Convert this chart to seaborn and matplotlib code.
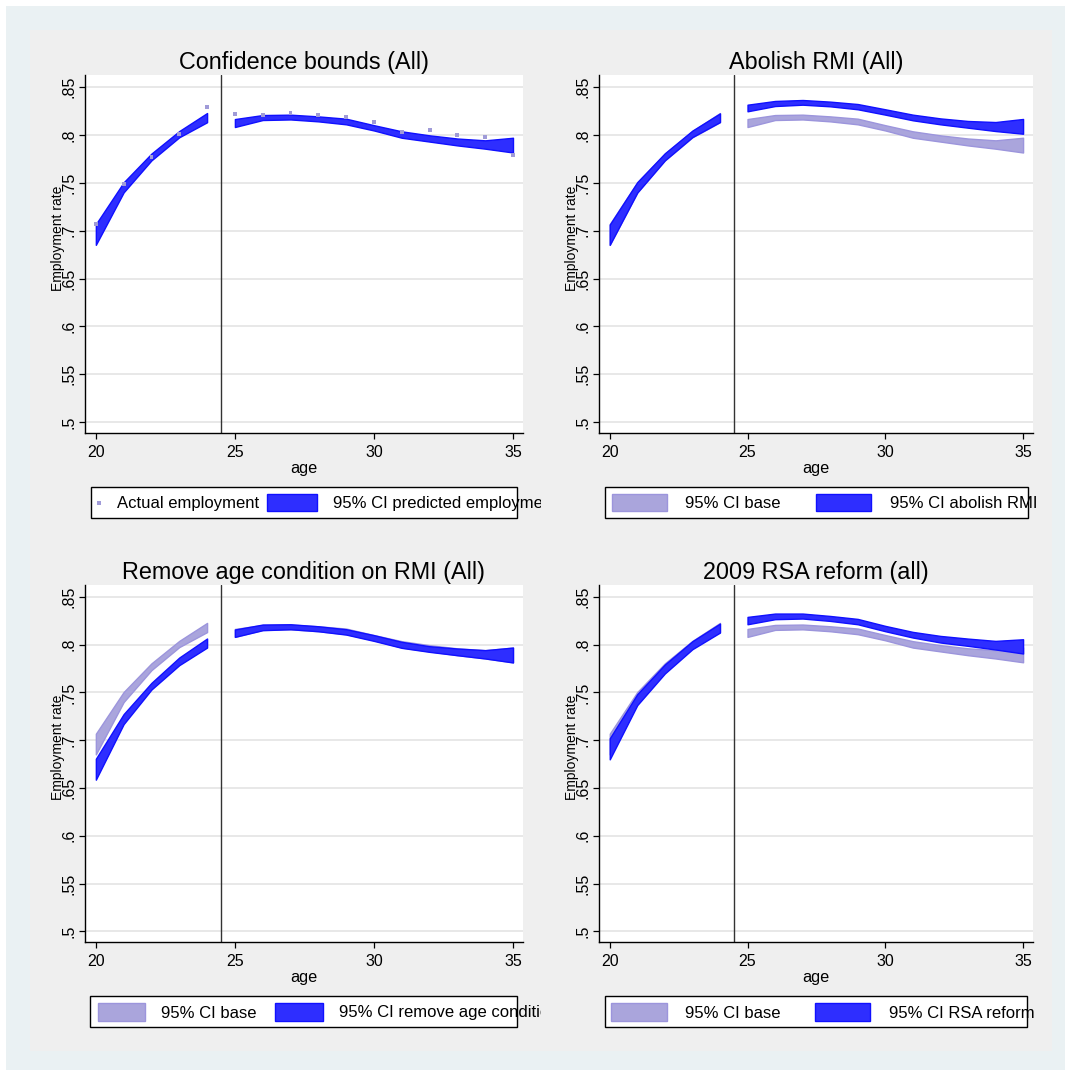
import numpy as np
import pandas as pd
import matplotlib
matplotlib.use('Agg')
import matplotlib.pyplot as plt
from matplotlib.patches import Rectangle
import seaborn as sns

# ---------------- data ----------------
ages_young = [20, 21, 22, 23, 24]
ages_old = [25, 26, 27, 28, 29, 30, 31, 32, 33, 34, 35]
ages_all = ages_young + ages_old

actual_employment = [0.7065, 0.7483, 0.7765, 0.8005, 0.8291,
                     0.8214, 0.8204, 0.8232, 0.8211, 0.8183, 0.8138,
                     0.8030, 0.8047, 0.7995, 0.7981, 0.7786]

# baseline prediction, 95% CI
base_young_hi = [0.7068, 0.7505, 0.7805, 0.8040, 0.8228]
base_young_lo = [0.6852, 0.7400, 0.7734, 0.7975, 0.8132]
base_old_hi = [0.8165, 0.8207, 0.8211, 0.8193, 0.8169, 0.8101,
               0.8037, 0.7995, 0.7962, 0.7943, 0.7970]
base_old_lo = [0.8082, 0.8155, 0.8161, 0.8141, 0.8110, 0.8046,
               0.7970, 0.7930, 0.7890, 0.7856, 0.7816]

# abolish RMI
abolish_young_hi = [0.7064, 0.7507, 0.7808, 0.8045, 0.8224]
abolish_young_lo = [0.6852, 0.7398, 0.7734, 0.7977, 0.8134]
abolish_old_hi = [0.8315, 0.8354, 0.8364, 0.8347, 0.8322, 0.8267,
                  0.8211, 0.8172, 0.8145, 0.8134, 0.8166]
abolish_old_lo = [0.8246, 0.8301, 0.8315, 0.8298, 0.8267, 0.8211,
                  0.8152, 0.8110, 0.8075, 0.8040, 0.8012]

# remove age condition on RMI
remove_young_hi = [0.6806, 0.7274, 0.7601, 0.7866, 0.8065]
remove_young_lo = [0.6587, 0.7169, 0.7531, 0.7786, 0.7970]
remove_old_hi = [0.8159, 0.8211, 0.8214, 0.8193, 0.8162, 0.8100,
                 0.8030, 0.7984, 0.7960, 0.7943, 0.7970]
remove_old_lo = [0.8082, 0.8152, 0.8162, 0.8141, 0.8106, 0.8040,
                 0.7967, 0.7925, 0.7890, 0.7856, 0.7814]

# 2009 RSA reform
rsa_young_hi = [0.7020, 0.7483, 0.7793, 0.8037, 0.8221]
rsa_young_lo = [0.6800, 0.7368, 0.7699, 0.7953, 0.8127]
rsa_old_hi = [0.8291, 0.8326, 0.8326, 0.8301, 0.8270, 0.8197,
              0.8134, 0.8092, 0.8064, 0.8040, 0.8057]
rsa_old_lo = [0.8214, 0.8267, 0.8274, 0.8249, 0.8214, 0.8141,
              0.8075, 0.8023, 0.7988, 0.7950, 0.7908]

y_ticks = [0.5, 0.55, 0.6, 0.65, 0.7, 0.75, 0.8, 0.85]
y_tick_labels = ['.5', '.55', '.6', '.65', '.7', '.75', '.8', '.85']
x_ticks = [20, 25, 30, 35]

# ---------------- style ----------------
sns.set_style('white')
plt.rcParams['font.family'] = ['Liberation Sans', 'DejaVu Sans']
plt.rcParams['text.color'] = 'black'
plt.rcParams['axes.labelcolor'] = 'black'
plt.rcParams['axes.titlecolor'] = 'black'
plt.rcParams['xtick.color'] = 'black'
plt.rcParams['ytick.color'] = 'black'

BLUE_FACE = '#2e2eff'
BLUE_EDGE = '#1010ff'
BASE_FACE = '#aaa5dc'
BASE_EDGE = '#9c95dc'
DOT = '#a09bd8'

W, H = 1065, 1070
fig = plt.figure(figsize=(W / 100, H / 100), dpi=100)
fig.patch.set_facecolor('white')
fig.patches.append(Rectangle((6 / W, 0), 1, 1 - 6 / H, transform=fig.transFigure,
                             facecolor='#eaf1f3', edgecolor='none', zorder=-10))
fig.patches.append(Rectangle((30 / W, 1 - 1051 / H), (1052 - 30) / W, (1051 - 30) / H,
                             transform=fig.transFigure, facecolor='#efefef',
                             edgecolor='none', zorder=-9))


def make_axes(l, t, r, b):
    return fig.add_axes([l / W, 1 - b / H, (r - l) / W, (b - t) / H])


def band(ax, x, lo, hi, face, edge, z):
    ax.fill_between(x, lo, hi, facecolor=face, edgecolor=edge, linewidth=1.0, zorder=z)


def style_axes(ax, title):
    ax.set_facecolor('white')
    ax.set_xlim(19.61, 35.36)
    ax.set_ylim(0.4888, 0.8625)
    ax.set_xticks(x_ticks)
    ax.set_xticklabels([str(v) for v in x_ticks])
    ax.set_yticks(y_ticks)
    ax.set_yticklabels(y_tick_labels)
    ax.yaxis.grid(True, color='#e4e4e4', linewidth=1.2)
    ax.xaxis.grid(False)
    ax.set_axisbelow(True)
    for s in ['top', 'right']:
        ax.spines[s].set_visible(False)
    for s in ['left', 'bottom']:
        ax.spines[s].set_visible(True)
        ax.spines[s].set_color('black')
        ax.spines[s].set_linewidth(1.0)
    ax.tick_params(axis='both', direction='out', length=4.5, width=0.9, color='black',
                   labelsize=11.5, bottom=True, left=True, labelcolor='black')
    ax.tick_params(axis='x', pad=4)
    ax.tick_params(axis='y', pad=1.5)
    for lab in ax.get_yticklabels():
        lab.set_rotation(90)
        lab.set_va('center')
    ax.axvline(24.5, color='#333333', linewidth=1.0, zorder=1)
    ax.set_xlabel('age', fontsize=11.7, labelpad=1, color='black')
    ax.set_ylabel('Employment rate', fontsize=10, color='black')
    ax.yaxis.label.set_va('center')
    ax.yaxis.set_label_coords(-0.062, 0.545)
    ax.set_title(title, fontsize=16.8, pad=4, color='black')


def legend_box(l, t, r, b, clip_r, items, sw_t, sw_b):
    lax = fig.add_axes([l / W, 1 - b / H, (clip_r - l) / W, (b - t) / H])
    lax.set_xlim(l, clip_r)
    lax.set_ylim(b, t)
    lax.axis('off')
    lax.add_patch(Rectangle((l, t), r - l, b - t, facecolor='white', edgecolor='black',
                            linewidth=1.0, clip_on=False, zorder=0))
    yc = (sw_t + sw_b) / 2
    for kind, x0, x1, face, edge, text, tx in items:
        if kind == 'marker':
            lax.add_patch(Rectangle((x0 - 2, yc - 2), 4, 4, facecolor=face,
                                    edgecolor='none', zorder=2))
        else:
            lax.add_patch(Rectangle((x0, sw_t), x1 - x0, sw_b - sw_t, facecolor=face,
                                    edgecolor=edge, linewidth=1.0, zorder=2))
        lax.text(tx, yc + 1, text, fontsize=12, va='center', ha='left', clip_on=True,
                 zorder=3, color='black')


# ---------------- panel 1: confidence bounds ----------------
ax1 = make_axes(85, 75, 523, 433)
band(ax1, ages_young, base_young_lo, base_young_hi, BLUE_FACE, BLUE_EDGE, 2)
band(ax1, ages_old, base_old_lo, base_old_hi, BLUE_FACE, BLUE_EDGE, 2)
df_act = pd.DataFrame({'age': ages_all, 'emp': actual_employment})
sns.scatterplot(data=df_act, x='age', y='emp', ax=ax1, marker='s', s=8, color=DOT,
                edgecolor='none', zorder=4, legend=False)
style_axes(ax1, 'Confidence bounds (All)')
legend_box(91, 487, 517, 518, 541,
           [('marker', 99, 99, DOT, None, 'Actual employment', 117),
            ('patch', 267, 317, BLUE_FACE, BLUE_EDGE, '95% CI predicted employment', 333)],
           494, 511)

# ---------------- panel 2: abolish RMI ----------------
ax2 = make_axes(599, 75, 1033, 433)
band(ax2, ages_young, base_young_lo, base_young_hi, BASE_FACE, BASE_EDGE, 2)
band(ax2, ages_old, base_old_lo, base_old_hi, BASE_FACE, BASE_EDGE, 2)
band(ax2, ages_young, abolish_young_lo, abolish_young_hi, BLUE_FACE, BLUE_EDGE, 3)
band(ax2, ages_old, abolish_old_lo, abolish_old_hi, BLUE_FACE, BLUE_EDGE, 3)
style_axes(ax2, 'Abolish RMI (All)')
legend_box(605, 487, 1028, 518, 1040,
           [('patch', 612, 667, BASE_FACE, BASE_EDGE, '95% CI base', 685),
            ('patch', 816, 871, BLUE_FACE, BLUE_EDGE, '95% CI abolish RMI', 890)],
           494, 511)

# ---------------- panel 3: remove age condition ----------------
ax3 = make_axes(85, 585, 523, 942)
band(ax3, ages_young, base_young_lo, base_young_hi, BASE_FACE, BASE_EDGE, 2)
band(ax3, ages_old, base_old_lo, base_old_hi, BASE_FACE, BASE_EDGE, 2)
band(ax3, ages_young, remove_young_lo, remove_young_hi, BLUE_FACE, BLUE_EDGE, 3)
band(ax3, ages_old, remove_old_lo, remove_old_hi, BLUE_FACE, BLUE_EDGE, 3)
style_axes(ax3, 'Remove age condition on RMI (All)')
legend_box(90, 996, 517, 1027, 541,
           [('patch', 98, 145, BASE_FACE, BASE_EDGE, '95% CI base', 161),
            ('patch', 275, 323, BLUE_FACE, BLUE_EDGE, '95% CI remove age condition', 339)],
           1003, 1021)

# ---------------- panel 4: RSA reform ----------------
ax4 = make_axes(599, 585, 1033, 942)
band(ax4, ages_young, base_young_lo, base_young_hi, BASE_FACE, BASE_EDGE, 2)
band(ax4, ages_old, base_old_lo, base_old_hi, BASE_FACE, BASE_EDGE, 2)
band(ax4, ages_young, rsa_young_lo, rsa_young_hi, BLUE_FACE, BLUE_EDGE, 3)
band(ax4, ages_old, rsa_old_lo, rsa_old_hi, BLUE_FACE, BLUE_EDGE, 3)
style_axes(ax4, '2009 RSA reform (all)')
legend_box(605, 996, 1027, 1027, 1040,
           [('patch', 611, 667, BASE_FACE, BASE_EDGE, '95% CI base', 685),
            ('patch', 815, 870, BLUE_FACE, BLUE_EDGE, '95% CI RSA reform', 889)],
           1003, 1021)

fig.savefig('out.png', dpi=100, facecolor=fig.get_facecolor())
